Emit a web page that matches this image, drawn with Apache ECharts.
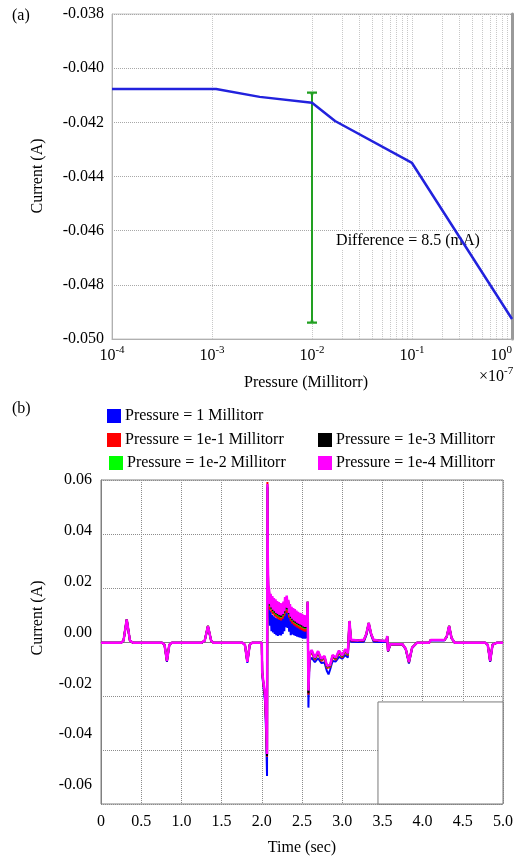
<!DOCTYPE html>
<html><head><meta charset="utf-8">
<script src="https://cdn.jsdelivr.net/npm/echarts@6/dist/echarts.min.js"></script>
<style>html,body{margin:0;padding:0;background:#fff}#c{width:524px;height:861px}</style>
</head><body><div id="c"></div>
<script>
const FONT = '"Liberation Serif","Times New Roman",serif';

// ---------- (a) current vs pressure ----------
const pressure = [1e-4, 1.1e-3, 3e-3, 1e-2, 1.7e-2, 1e-1, 1];
const currentA = [-0.04077, -0.04077, -0.04106, -0.04128, -0.04195, -0.0435, -0.04926];
const diffPressure = 1e-2;
const diffTop = -0.0409;
const diffBottom = -0.0494;
const diffLabel = 'Difference = 8.5 (mA)';
const diffLabelAt = [0.0912, -0.04638];
const minorGridA = [2e-4,3e-4,4e-4,5e-4,6e-4,7e-4,8e-4,9e-4,
                    2e-3,3e-3,4e-3,5e-3,6e-3,7e-3,8e-3,9e-3,
                    2e-2,3e-2,4e-2,5e-2,6e-2,7e-2,8e-2,9e-2,
                    0.2,0.3,0.4,0.5,0.6,0.7,0.8,0.9];

// ---------- (b) current vs time ----------
const seriesNames = ['Pressure = 1 Millitorr','Pressure = 1e-1 Millitorr','Pressure = 1e-2 Millitorr','Pressure = 1e-3 Millitorr','Pressure = 1e-4 Millitorr'];
const time = [
  0,0.25,0.28,0.32,0.36,0.40,0.76,0.79,0.82,0.85,0.88,1.25,1.29,1.33,1.37,1.40,1.76,1.79,1.82,1.85,1.88,2.00,
  2.005,2.02,2.04,2.055,2.065,2.07,2.075,2.08,
  2.09,2.10,2.11,2.12,2.13,2.14,2.15,2.16,
  2.17,2.18,2.19,2.20,2.21,2.22,2.23,2.24,
  2.25,2.26,2.27,2.28,2.29,2.30,2.31,2.32,
  2.33,2.34,2.35,2.36,2.37,2.38,2.39,2.40,
  2.41,2.42,2.43,2.44,2.45,2.46,2.47,2.48,
  2.49,2.50,2.51,2.52,2.53,2.54,2.55,2.56,
  2.57,2.58,2.59,
  2.60,2.62,2.66,2.70,2.74,2.78,2.81,2.83,2.85,2.88,2.92,2.96,3.00,3.04,3.07,
  3.09,3.11,3.20,3.27,3.30,3.33,3.36,3.39,3.45,3.55,3.56,3.57,3.60,3.75,3.79,3.83,3.87,3.93,4.08,4.10,4.27,4.30,4.33,4.36,4.40,4.78,4.81,4.84,4.87,4.92,5.00
];
const cur1 = [
  -0.0003,-0.0003,0.0005,0.0082,0.0005,-0.0003,-0.0003,-0.0011,-0.0074,-0.0011,-0.0003,-0.0003,0.0005,0.0057,0.0005,-0.0003,-0.0003,-0.0011,-0.0077,-0.0011,-0.0003,-0.0003,
  -0.0120,-0.0165,-0.0220,-0.0350,-0.0496,0.0570,0.0260,0.0160,
  0.0160,0.0060,0.0115,0.0040,0.0100,0.0035,0.0095,0.0030,
  0.0090,0.0025,0.0088,0.0022,0.0085,0.0025,0.0086,0.0024,
  0.0088,0.0030,0.0095,0.0040,0.0112,0.0055,0.0118,0.0052,
  0.0105,0.0038,0.0090,0.0025,0.0080,0.0028,0.0075,0.0025,
  0.0072,0.0022,0.0068,0.0020,0.0066,0.0018,0.0064,0.0016,
  0.0062,0.0014,0.0060,0.0012,0.0058,0.0012,0.0056,0.0014,
  0.0140,-0.0243,-0.0100,
  -0.0068,-0.0058,-0.0075,-0.0060,-0.0078,-0.0076,-0.0108,-0.0120,-0.0102,-0.0070,-0.0072,-0.0055,-0.0062,-0.0048,-0.0058,
  0.0070,0.0001,0.0000,0.0001,0.0025,0.0066,0.0025,0.0001,0.0000,0.0000,0.0018,-0.0036,-0.0010,-0.0010,-0.0028,-0.0080,-0.0022,-0.0003,-0.0003,0.0006,0.0006,0.0018,0.0057,0.0013,-0.0003,-0.0003,-0.0011,-0.0074,-0.0011,-0.0003,-0.0003
];
const cur1e1 = [
  -0.0003,-0.0003,0.0005,0.0084,0.0005,-0.0003,-0.0003,-0.0010,-0.0071,-0.0010,-0.0003,-0.0003,0.0005,0.0059,0.0005,-0.0003,-0.0003,-0.0010,-0.0074,-0.0010,-0.0003,-0.0003,
  -0.0112,-0.0155,-0.0200,-0.0310,-0.0425,0.0593,0.0290,0.0200,
  0.0160,0.0120,0.0148,0.0110,0.0140,0.0102,0.0133,0.0096,
  0.0128,0.0090,0.0122,0.0086,0.0118,0.0082,0.0114,0.0080,
  0.0113,0.0086,0.0120,0.0096,0.0136,0.0110,0.0142,0.0108,
  0.0126,0.0090,0.0110,0.0076,0.0100,0.0068,0.0096,0.0062,
  0.0092,0.0058,0.0086,0.0054,0.0082,0.0050,0.0078,0.0047,
  0.0076,0.0044,0.0072,0.0040,0.0070,0.0038,0.0068,0.0040,
  0.0148,-0.0195,-0.0085,
  -0.0048,-0.0038,-0.0066,-0.0042,-0.0070,-0.0060,-0.0096,-0.0098,-0.0093,-0.0056,-0.0066,-0.0040,-0.0058,-0.0034,-0.0050,
  0.0076,0.0006,0.0005,0.0006,0.0029,0.0070,0.0029,0.0006,0.0005,0.0003,0.0021,-0.0034,-0.0009,-0.0009,-0.0026,-0.0075,-0.0021,-0.0003,-0.0003,0.0007,0.0007,0.0020,0.0059,0.0015,-0.0003,-0.0003,-0.0010,-0.0071,-0.0010,-0.0003,-0.0003
];
const cur1e2 = [
  -0.0003,-0.0003,0.0005,0.0084,0.0005,-0.0003,-0.0003,-0.0010,-0.0070,-0.0010,-0.0003,-0.0003,0.0005,0.0059,0.0005,-0.0003,-0.0003,-0.0010,-0.0073,-0.0010,-0.0003,-0.0003,
  -0.0111,-0.0152,-0.0195,-0.0305,-0.0420,0.0582,0.0295,0.0205,
  0.0187,0.0132,0.0170,0.0120,0.0162,0.0112,0.0155,0.0106,
  0.0150,0.0100,0.0144,0.0096,0.0140,0.0092,0.0136,0.0090,
  0.0135,0.0096,0.0142,0.0106,0.0158,0.0120,0.0164,0.0118,
  0.0148,0.0100,0.0132,0.0086,0.0122,0.0078,0.0118,0.0072,
  0.0114,0.0068,0.0108,0.0064,0.0104,0.0060,0.0100,0.0057,
  0.0098,0.0054,0.0094,0.0050,0.0092,0.0048,0.0090,0.0050,
  0.0150,-0.0185,-0.0082,
  -0.0044,-0.0034,-0.0062,-0.0038,-0.0066,-0.0056,-0.0092,-0.0094,-0.0089,-0.0052,-0.0062,-0.0036,-0.0054,-0.0030,-0.0046,
  0.0078,0.0008,0.0006,0.0008,0.0030,0.0071,0.0030,0.0008,0.0006,0.0004,0.0022,-0.0033,-0.0008,-0.0008,-0.0025,-0.0074,-0.0020,-0.0003,-0.0003,0.0007,0.0007,0.0020,0.0059,0.0015,-0.0003,-0.0003,-0.0010,-0.0070,-0.0010,-0.0003,-0.0003
];
const cur1e3 = [
  -0.0003,-0.0003,0.0005,0.0084,0.0005,-0.0003,-0.0003,-0.0010,-0.0070,-0.0010,-0.0003,-0.0003,0.0005,0.0059,0.0005,-0.0003,-0.0003,-0.0010,-0.0073,-0.0010,-0.0003,-0.0003,
  -0.0111,-0.0153,-0.0198,-0.0308,-0.0422,0.0575,0.0288,0.0198,
  0.0190,0.0135,0.0173,0.0123,0.0165,0.0115,0.0158,0.0109,
  0.0153,0.0103,0.0147,0.0099,0.0143,0.0095,0.0139,0.0093,
  0.0138,0.0099,0.0145,0.0109,0.0161,0.0123,0.0167,0.0121,
  0.0151,0.0103,0.0135,0.0089,0.0125,0.0081,0.0121,0.0075,
  0.0117,0.0071,0.0111,0.0067,0.0107,0.0063,0.0103,0.0060,
  0.0101,0.0057,0.0097,0.0053,0.0095,0.0051,0.0093,0.0053,
  0.0149,-0.0190,-0.0083,
  -0.0042,-0.0032,-0.0060,-0.0036,-0.0064,-0.0054,-0.0090,-0.0092,-0.0087,-0.0050,-0.0060,-0.0034,-0.0052,-0.0028,-0.0044,
  0.0077,0.0007,0.0006,0.0007,0.0029,0.0070,0.0029,0.0007,0.0006,0.0004,0.0021,-0.0033,-0.0008,-0.0008,-0.0025,-0.0074,-0.0020,-0.0003,-0.0003,0.0007,0.0007,0.0020,0.0059,0.0015,-0.0003,-0.0003,-0.0010,-0.0070,-0.0010,-0.0003,-0.0003
];
const cur1e4 = [
  -0.0003,-0.0003,0.0005,0.0084,0.0005,-0.0003,-0.0003,-0.0010,-0.0070,-0.0010,-0.0003,-0.0003,0.0005,0.0059,0.0005,-0.0003,-0.0003,-0.0010,-0.0073,-0.0010,-0.0003,-0.0003,
  -0.0110,-0.0150,-0.0190,-0.0300,-0.0415,0.0585,0.0300,0.0210,
  0.0195,0.0140,0.0178,0.0128,0.0170,0.0120,0.0163,0.0114,
  0.0158,0.0108,0.0152,0.0104,0.0148,0.0100,0.0144,0.0098,
  0.0143,0.0104,0.0150,0.0114,0.0166,0.0128,0.0172,0.0126,
  0.0156,0.0108,0.0140,0.0094,0.0130,0.0086,0.0126,0.0080,
  0.0122,0.0076,0.0116,0.0072,0.0112,0.0068,0.0108,0.0065,
  0.0106,0.0062,0.0102,0.0058,0.0100,0.0056,0.0098,0.0058,
  0.0150,-0.0180,-0.0080,
  -0.0040,-0.0030,-0.0058,-0.0034,-0.0062,-0.0052,-0.0088,-0.0090,-0.0085,-0.0048,-0.0058,-0.0032,-0.0050,-0.0026,-0.0042,
  0.0078,0.0008,0.0006,0.0008,0.0030,0.0071,0.0030,0.0008,0.0006,0.0004,0.0022,-0.0033,-0.0008,-0.0008,-0.0025,-0.0074,-0.0020,-0.0003,-0.0003,0.0007,0.0007,0.0020,0.0059,0.0015,-0.0003,-0.0003,-0.0010,-0.0070,-0.0010,-0.0003,-0.0003
];
const seriesColors = ['#0000ff','#ff0000','#00ff00','#000000','#ff00ff'];
const yLabelsB = [-0.06,-0.04,-0.02,0,0.02,0.04,0.06];
const legendBox = {x0: 3.445, x1: 5.0, y0: -0.06, y1: -0.0222};

const chart = echarts.init(document.getElementById('c'), null, {renderer: 'canvas'});
const txt = {fontFamily: FONT, fontSize: 16, color: '#000'};

const allB = [cur1, cur1e1, cur1e2, cur1e3, cur1e4];
const bSeries = allB.map((arr, i) => ({
  name: seriesNames[i], type: 'line', xAxisIndex: 1, yAxisIndex: 2,
  data: time.map((t, k) => [t, arr[k]]),
  showSymbol: false, symbol: 'none',
  lineStyle: {color: seriesColors[i], width: i === 4 ? 2.5 : 2},
  itemStyle: {color: seriesColors[i]},
  z: 3 + i, animation: false,
  markArea: i === 0 ? {
    silent: true,
    itemStyle: {color: '#fff', borderColor: '#7a7a7a', borderWidth: 1},
    data: [[{xAxis: legendBox.x0, yAxis: legendBox.y0}, {xAxis: legendBox.x1, yAxis: legendBox.y1}]]
  } : undefined
}));

const legendPos = [[107, 408], [107, 432], [109, 455], [318, 432], [318, 455]];
const legends = seriesNames.map((n, i) => ({
  data: [n], left: legendPos[i][0], top: legendPos[i][1], padding: 0,
  itemWidth: 14, itemHeight: 14, icon: 'rect', itemGap: 0,
  textStyle: {fontFamily: FONT, fontSize: 16, color: '#000', padding: [0,0,0,-1]},
  selectedMode: false
}));

const capPath = 'path://M0,0 L10,0 L10,2 L6.5,2 L5,7 L3.5,2 L0,2 Z';
const GREEN = '#22a022';

const baseGraphic = [
  {id: 'ta', type: 'text', left: 12, top: 8, style: {text: '(a)', font: '16px ' + FONT, fill: '#000'}},
  {id: 'tb', type: 'text', left: 12, top: 401, style: {text: '(b)', font: '16px ' + FONT, fill: '#000'}},
  {id: 'ya', type: 'text', x: 38, y: 176, rotation: Math.PI / 2,
   style: {text: 'Current (A)', font: '16px ' + FONT, fill: '#000', align: 'center', verticalAlign: 'middle'}},
  {id: 'yb', type: 'text', x: 38, y: 618, rotation: Math.PI / 2,
   style: {text: 'Current (A)', font: '16px ' + FONT, fill: '#000', align: 'center', verticalAlign: 'middle'}},
  {id: 'exp', type: 'text', left: 479, top: 366,
   style: {text: '{m|×10}{s|-7}', fill: '#000',
     rich: {m: {font: '16px ' + FONT, verticalAlign: 'bottom'}, s: {font: '11px ' + FONT, verticalAlign: 'bottom', padding: [0,0,8,0]}}}}
];

chart.setOption({
  animation: false,
  backgroundColor: '#fff',
  textStyle: {fontFamily: FONT},
  legend: legends,
  grid: [
    {left: 112, top: 14, width: 400, height: 325, show: true, borderColor: '#c4c4c4', borderWidth: 1},
    {left: 101, top: 480, width: 402, height: 324, show: true, borderColor: '#808080', borderWidth: 1}
  ],
  xAxis: [
    {type: 'log', logBase: 10, gridIndex: 0, min: 1e-4, max: 1,
     axisLine: {lineStyle: {color: '#b0b0b0'}}, axisTick: {show: false},
     splitLine: {show: true, lineStyle: {color: '#c8c8c8', type: 'dotted'}},
     axisLabel: {margin: 6, alignMaxLabel: 'right',
       formatter: v => '{b|10}{s|' + Math.round(Math.log10(v)) + '}',
       rich: {b: {fontFamily: FONT, fontSize: 16, color: '#000', verticalAlign: 'bottom'},
              s: {fontFamily: FONT, fontSize: 11, color: '#000', verticalAlign: 'bottom', padding: [0,0,8,0]}}},
     name: 'Pressure (Millitorr)', nameLocation: 'middle', nameGap: 36,
     nameTextStyle: Object.assign({}, txt, {padding: [0, 12, 0, 0]})},
    {type: 'value', gridIndex: 1, min: 0, max: 5, interval: 0.5,
     axisLine: {lineStyle: {color: '#808080'}}, axisTick: {show: false},
     splitLine: {show: true, lineStyle: {color: '#8c8c8c', type: 'dotted'}},
     axisLabel: Object.assign({}, txt, {margin: 10, formatter: v => v === 0 ? '0' : v.toFixed(1)}),
     name: 'Time (sec)', nameLocation: 'middle', nameGap: 36, nameTextStyle: txt}
  ],
  yAxis: [
    {type: 'value', gridIndex: 0, min: -0.05, max: -0.038, interval: 0.002,
     axisLine: {show: true, lineStyle: {color: '#b0b0b0'}}, axisTick: {show: false},
     splitLine: {show: true, lineStyle: {color: '#a8a8a8', type: 'dotted'}},
     axisLabel: Object.assign({}, txt, {margin: 8, formatter: v => v.toFixed(3)})},
    {type: 'value', gridIndex: 0, position: 'right', min: -0.05, max: -0.038,
     axisLine: {show: true, lineStyle: {color: '#9a9a9a', width: 3}}, axisTick: {show: false},
     axisLabel: {show: false}, splitLine: {show: false}},
    {type: 'value', gridIndex: 1, min: -0.06, max: 0.06, interval: 0.02,
     axisLine: {show: true, lineStyle: {color: '#808080'}}, axisTick: {show: false},
     splitLine: {show: true, lineStyle: {color: '#8c8c8c', type: 'dotted'}},
     axisLabel: {show: false}},
    {type: 'value', gridIndex: 1, position: 'left', min: -0.06745, max: 0.06,
     axisLine: {show: false}, axisTick: {show: false}, splitLine: {show: false},
     axisLabel: Object.assign({}, txt, {margin: 9, customValues: yLabelsB, formatter: v => v.toFixed(2)})}
  ],
  graphic: baseGraphic,
  series: [
    {name: 'minorGrid', type: 'line', xAxisIndex: 0, yAxisIndex: 0, z: 0, data: [], symbol: 'none',
     markLine: {silent: true, symbol: 'none', label: {show: false}, z: 0,
       lineStyle: {color: '#c8c8c8', type: 'dotted', width: 1},
       data: minorGridA.map(v => ({xAxis: v}))}},
    {name: 'curveA', type: 'line', xAxisIndex: 0, yAxisIndex: 0, z: 5,
     data: pressure.map((p, i) => [p, currentA[i]]), symbol: 'none',
     lineStyle: {color: '#2222dd', width: 2.5}},
    {name: 'diffLine', type: 'line', xAxisIndex: 0, yAxisIndex: 0, z: 4,
     data: [[diffPressure, diffTop], [diffPressure, diffBottom]],
     symbol: 'none', lineStyle: {color: GREEN, width: 2, opacity: 1}},
    {name: 'diffCaps', type: 'scatter', xAxisIndex: 0, yAxisIndex: 0, z: 4,
     data: [
       {value: [diffPressure, diffTop], symbolRotate: 0, symbolOffset: [0, 3]},
       {value: [diffPressure, diffBottom], symbolRotate: 180, symbolOffset: [0, -3]}
     ],
     symbol: capPath, symbolSize: [10, 8], itemStyle: {color: GREEN, opacity: 1}},
    ...bSeries
  ]
});

// annotation text anchored at a data position of chart (a)
const lp = chart.convertToPixel({xAxisIndex: 0, yAxisIndex: 0}, diffLabelAt);
chart.setOption({
  graphic: baseGraphic.concat([{
    id: 'diffText', type: 'text', x: lp[0], y: lp[1], z: 1,
    style: {text: diffLabel, font: '16px ' + FONT, fill: '#000', align: 'center', verticalAlign: 'middle',
            backgroundColor: '#fff', padding: [1, 2]}
  }])
});
</script></body></html>
